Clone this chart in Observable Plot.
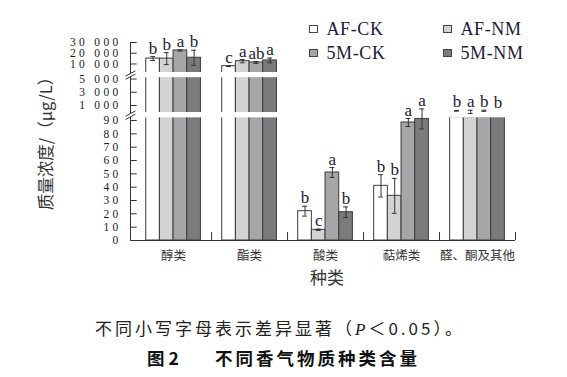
<!DOCTYPE html>
<html><head><meta charset="utf-8">
<script src="https://cdn.jsdelivr.net/npm/d3@7"></script>
<script src="https://cdn.jsdelivr.net/npm/@observablehq/plot@0.6"></script>
<style>
html,body{margin:0;padding:0;background:#fff;}
#wrap{position:relative;width:567px;height:377px;overflow:hidden;background:#fff;}
#chart{position:absolute;left:0;top:0;width:567px;height:300px;}
#chart g[aria-label="y-axis tick label"] text{letter-spacing:3.3px;}
.legend-item{position:absolute;display:flex;align-items:center;height:20px;font-family:"Liberation Serif",serif;font-size:18px;color:#1c2038;letter-spacing:0.6px;white-space:nowrap;}
.legend-item .sw{width:6.5px;height:6.5px;border:1px solid #444;margin-right:9px;flex:none;}
.cap{position:absolute;font-family:"Noto Sans CJK SC",sans-serif;white-space:nowrap;color:#222;}
</style></head><body>
<div id="wrap">
<div id="chart"></div>
<div id="legend"></div>
<div class="cap" style="left:95px;top:318px;font-size:17px;line-height:20px;letter-spacing:3px;">不同小写字母表示差异显著（<i style="font-family:'Liberation Serif',serif;">P</i>＜0.05）。</div>
<div class="cap" style="left:147px;top:348px;font-size:17.5px;line-height:20px;font-weight:700;color:#111;">图 2</div>
<div class="cap" style="left:215px;top:348px;font-size:17.5px;line-height:20px;font-weight:700;letter-spacing:3px;color:#111;">不同香气物质种类含量</div>
</div>
<script>
// ---- data ----
const categories = ["醇类", "酯类", "酸类", "萜烯类", "醛、酮及其他"];
const series = ["AF-CK", "AF-NM", "5M-CK", "5M-NM"];
const colors = ["#ffffff", "#d3d3d3", "#a6a6a8", "#7b7b7e"];

const valuesAFCK = [15000, 7950, 22, 41, 97.3];
const valuesAFNM = [15000, 12600, 8, 33.5, 96.5];
const values5MCK = [22600, 11400, 51, 88.5, 97.3];
const values5MNM = [15800, 13300, 21.2, 91.2, 97.5];

const errAFCK = [1800, 300, 3.7, 8.4, 0.3];
const errAFNM = [5600, 1500, 0.5, 13.1, 1.2];
const err5MCK = [600, 900, 3.7, 3, 0.4];
const err5MNM = [7000, 2200, 4, 7.5, 0];

const lettersAFCK = ["b", "c", "b", "b", "b"];
const lettersAFNM = ["b", "a", "c", "b", "a"];
const letters5MCK = ["a", "ab", "a", "a", "b"];
const letters5MNM = ["b", "a", "b", "a", "b"];

const yTicks = [0, 10, 20, 30, 40, 50, 60, 70, 80, 90, 1000, 3000, 5000, 10000, 20000, 30000];

// ---- layout (broken axis: piecewise value -> height above baseline) ----
const xDomain = [-0.567, 4.5];
const breakKnots = [0, 100, 1000, 5200, 5600, 7000, 30000];
const breakHeights = [0, 133.3, 135, 162.8, 168, 173.3, 198];
const B = d3.scaleLinear().domain(breakKnots).range(breakHeights);
const gaps = [[92, 96], [5200, 5600]];
const panelTop = 92.5, midStart = 1000;
const barW = 0.18, capW = 0.032;

const valueSets = [valuesAFCK, valuesAFNM, values5MCK, values5MNM];
const errSets = [errAFCK, errAFNM, err5MCK, err5MNM];
const letterSets = [lettersAFCK, lettersAFNM, letters5MCK, letters5MNM];

const table = [];
categories.forEach((c, i) => series.forEach((s, j) => table.push({
  category: c, series: s, x: i + (j - 1.5) * barW,
  value: valueSets[j][i], err: errSets[j][i], letter: letterSets[j][i]
})));
const eb = table.filter(d => d.err > 0);

const fmt = v => d3.format(",")(v).replace(/,/g, " ");
const tickLabel = new Map(yTicks.map(v => [B(v), fmt(v)]));
const x0 = xDomain[0];
const ink = "#333";
const brk = {x1: x0 - 0.065, x2: x0 + 0.065, y1: d => B(d[0]), y2: d => B(d[1])};

const plot = Plot.plot({
  width: 567, height: 300,
  marginLeft: 130, marginRight: 52, marginTop: 42, marginBottom: 60,
  x: {domain: xDomain},
  y: {domain: [0, 198]},
  color: {domain: series, range: colors},
  style: {fontFamily: "Liberation Serif", fontSize: "12px", overflow: "visible", background: "transparent", color: "#222"},
  marks: [
    Plot.rect(table, {
      x1: d => d.x - barW / 2, x2: d => d.x + barW / 2,
      y1: d => B(0), y2: d => B((d.value > panelTop && d.value < midStart) ? panelTop : d.value),
      fill: "series", stroke: "#3c3c3c", strokeWidth: 1
    }),
    Plot.rect(gaps, {y1: d => B(d[0]), y2: d => B(d[1]), fill: "white"}),
    Plot.ruleX(eb, {x: "x", y1: d => B(d.value - d.err), y2: d => B(d.value + d.err), stroke: ink}),
    Plot.ruleY(eb, {y: d => B(d.value + d.err), x1: d => d.x - capW, x2: d => d.x + capW, stroke: ink}),
    Plot.ruleY(eb, {y: d => B(d.value - d.err), x1: d => d.x - capW, x2: d => d.x + capW, stroke: ink}),
    Plot.text(table, {x: "x", y: d => B(d.value + d.err), text: "letter", lineAnchor: "bottom", dy: -3,
      fontSize: 17, fontFamily: "Liberation Serif", fill: "#1c2038"}),
    // axes
    Plot.ruleY([0], {y: d => B(d), stroke: ink}),
    Plot.ruleX([x0], {y1: () => B(0), y2: () => B(30000), stroke: ink}),
    Plot.ruleY(yTicks, {y: d => B(d), x1: x0, x2: x0 + 0.088, stroke: ink}),
    Plot.ruleX(d3.range(categories.length).map(i => i + 0.5), {y1: () => B(0), y2: () => B(6), stroke: ink}),
    Plot.link(gaps, {...brk, stroke: "white", strokeWidth: 3}),
    Plot.link(gaps, {...brk, stroke: ink, dy: -1.6}),
    Plot.link(gaps, {...brk, stroke: ink, dy: 1.6}),
    Plot.axisY({ticks: yTicks.map(B), tickFormat: t => tickLabel.get(t), tickSize: 0, tickPadding: 9, label: null,
      fontSize: 11.5, fontFamily: "Liberation Serif", fill: "#1a1a1a"}),
    Plot.axisX({ticks: d3.range(categories.length), tickFormat: i => categories[i], tickSize: 0, tickPadding: 11,
      label: null, fontSize: 12.5, fontFamily: "Noto Sans CJK SC", fill: "#333"}),
    Plot.text(["种类"], {frameAnchor: "bottom", textAnchor: "middle", lineAnchor: "middle", dx: 4, dy: 38,
      fontSize: 17, fontFamily: "Noto Sans CJK SC", fill: "#333"}),
    Plot.text(["质量浓度/（μg/L）"], {frameAnchor: "left", textAnchor: "middle", lineAnchor: "middle", rotate: -90,
      dx: -84, dy: -2, fontSize: 16.5, fontFamily: "Noto Sans CJK SC", fill: "#333"})
  ]
});
document.getElementById("chart").appendChild(plot);

// legend (2 x 2)
const legendPos = [[309, 19], [443, 19], [309, 43], [443, 43]];
const legend = document.getElementById("legend");
series.forEach((s, j) => {
  const item = document.createElement("div");
  item.className = "legend-item";
  item.style.left = legendPos[j][0] + "px";
  item.style.top = legendPos[j][1] + "px";
  const sw = document.createElement("span");
  sw.className = "sw";
  sw.style.background = colors[j];
  item.appendChild(sw);
  item.appendChild(document.createTextNode(s));
  legend.appendChild(item);
});
</script>
</body></html>
